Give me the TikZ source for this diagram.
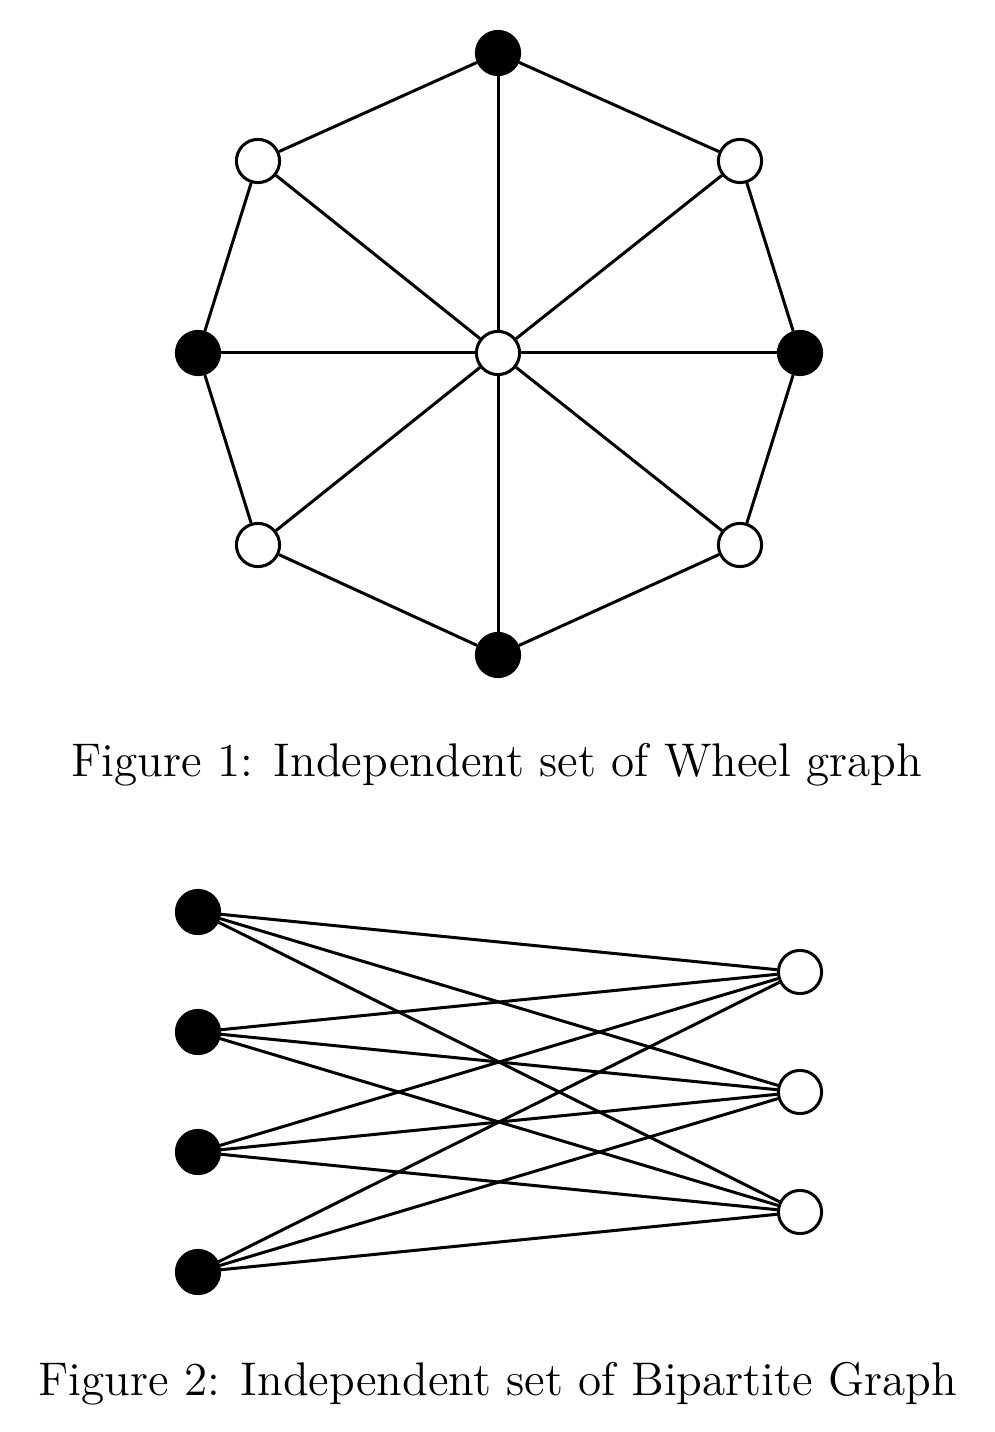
\documentclass[tikz,border=0pt]{standalone}
\begin{document}
\begin{tikzpicture}[x=0.25pt,y=-0.25pt,
  vtx/.style={circle,draw,line width=0.75pt,minimum size=10.8pt,inner sep=0pt},
  blk/.style={vtx,fill=black},
  wht/.style={vtx,fill=white},
  edge/.style={line width=0.75pt},
  captext/.style={anchor=base,font=\fontsize{11.8}{14}\selectfont,inner sep=0pt}]
\useasboundingbox (0,0) rectangle (994,1432);
% wheel graph
\node[wht] (c) at (498,353) {};
\node[blk] (t) at (498,53) {};
\node[wht] (ul) at (258,161) {};
\node[wht] (ur) at (740,161) {};
\node[blk] (l) at (198,353) {};
\node[blk] (r) at (800,353) {};
\node[wht] (ll) at (258,545) {};
\node[wht] (lr) at (740,545) {};
\node[blk] (b) at (498,655) {};
\foreach \v in {t,ul,ur,l,r,ll,lr,b} \draw[edge] (c) -- (\v);
\draw[edge] (t) -- (ur) -- (r) -- (lr) -- (b) -- (ll) -- (l) -- (ul) -- (t);
\node[captext] (cap1) at (497,776) {Figure 1: Independent set of Wheel graph};
% bipartite graph
\node[blk] (a1) at (198,912) {};
\node[blk] (a2) at (198,1032) {};
\node[blk] (a3) at (198,1152) {};
\node[blk] (a4) at (198,1272) {};
\node[wht] (b1) at (800,972) {};
\node[wht] (b2) at (800,1092) {};
\node[wht] (b3) at (800,1212) {};
\foreach \i in {a1,a2,a3,a4} \foreach \j in {b1,b2,b3} \draw[edge] (\i) -- (\j);
\node[captext] (cap2) at (498,1395) {Figure 2: Independent set of Bipartite Graph};
\end{tikzpicture}
\end{document}
